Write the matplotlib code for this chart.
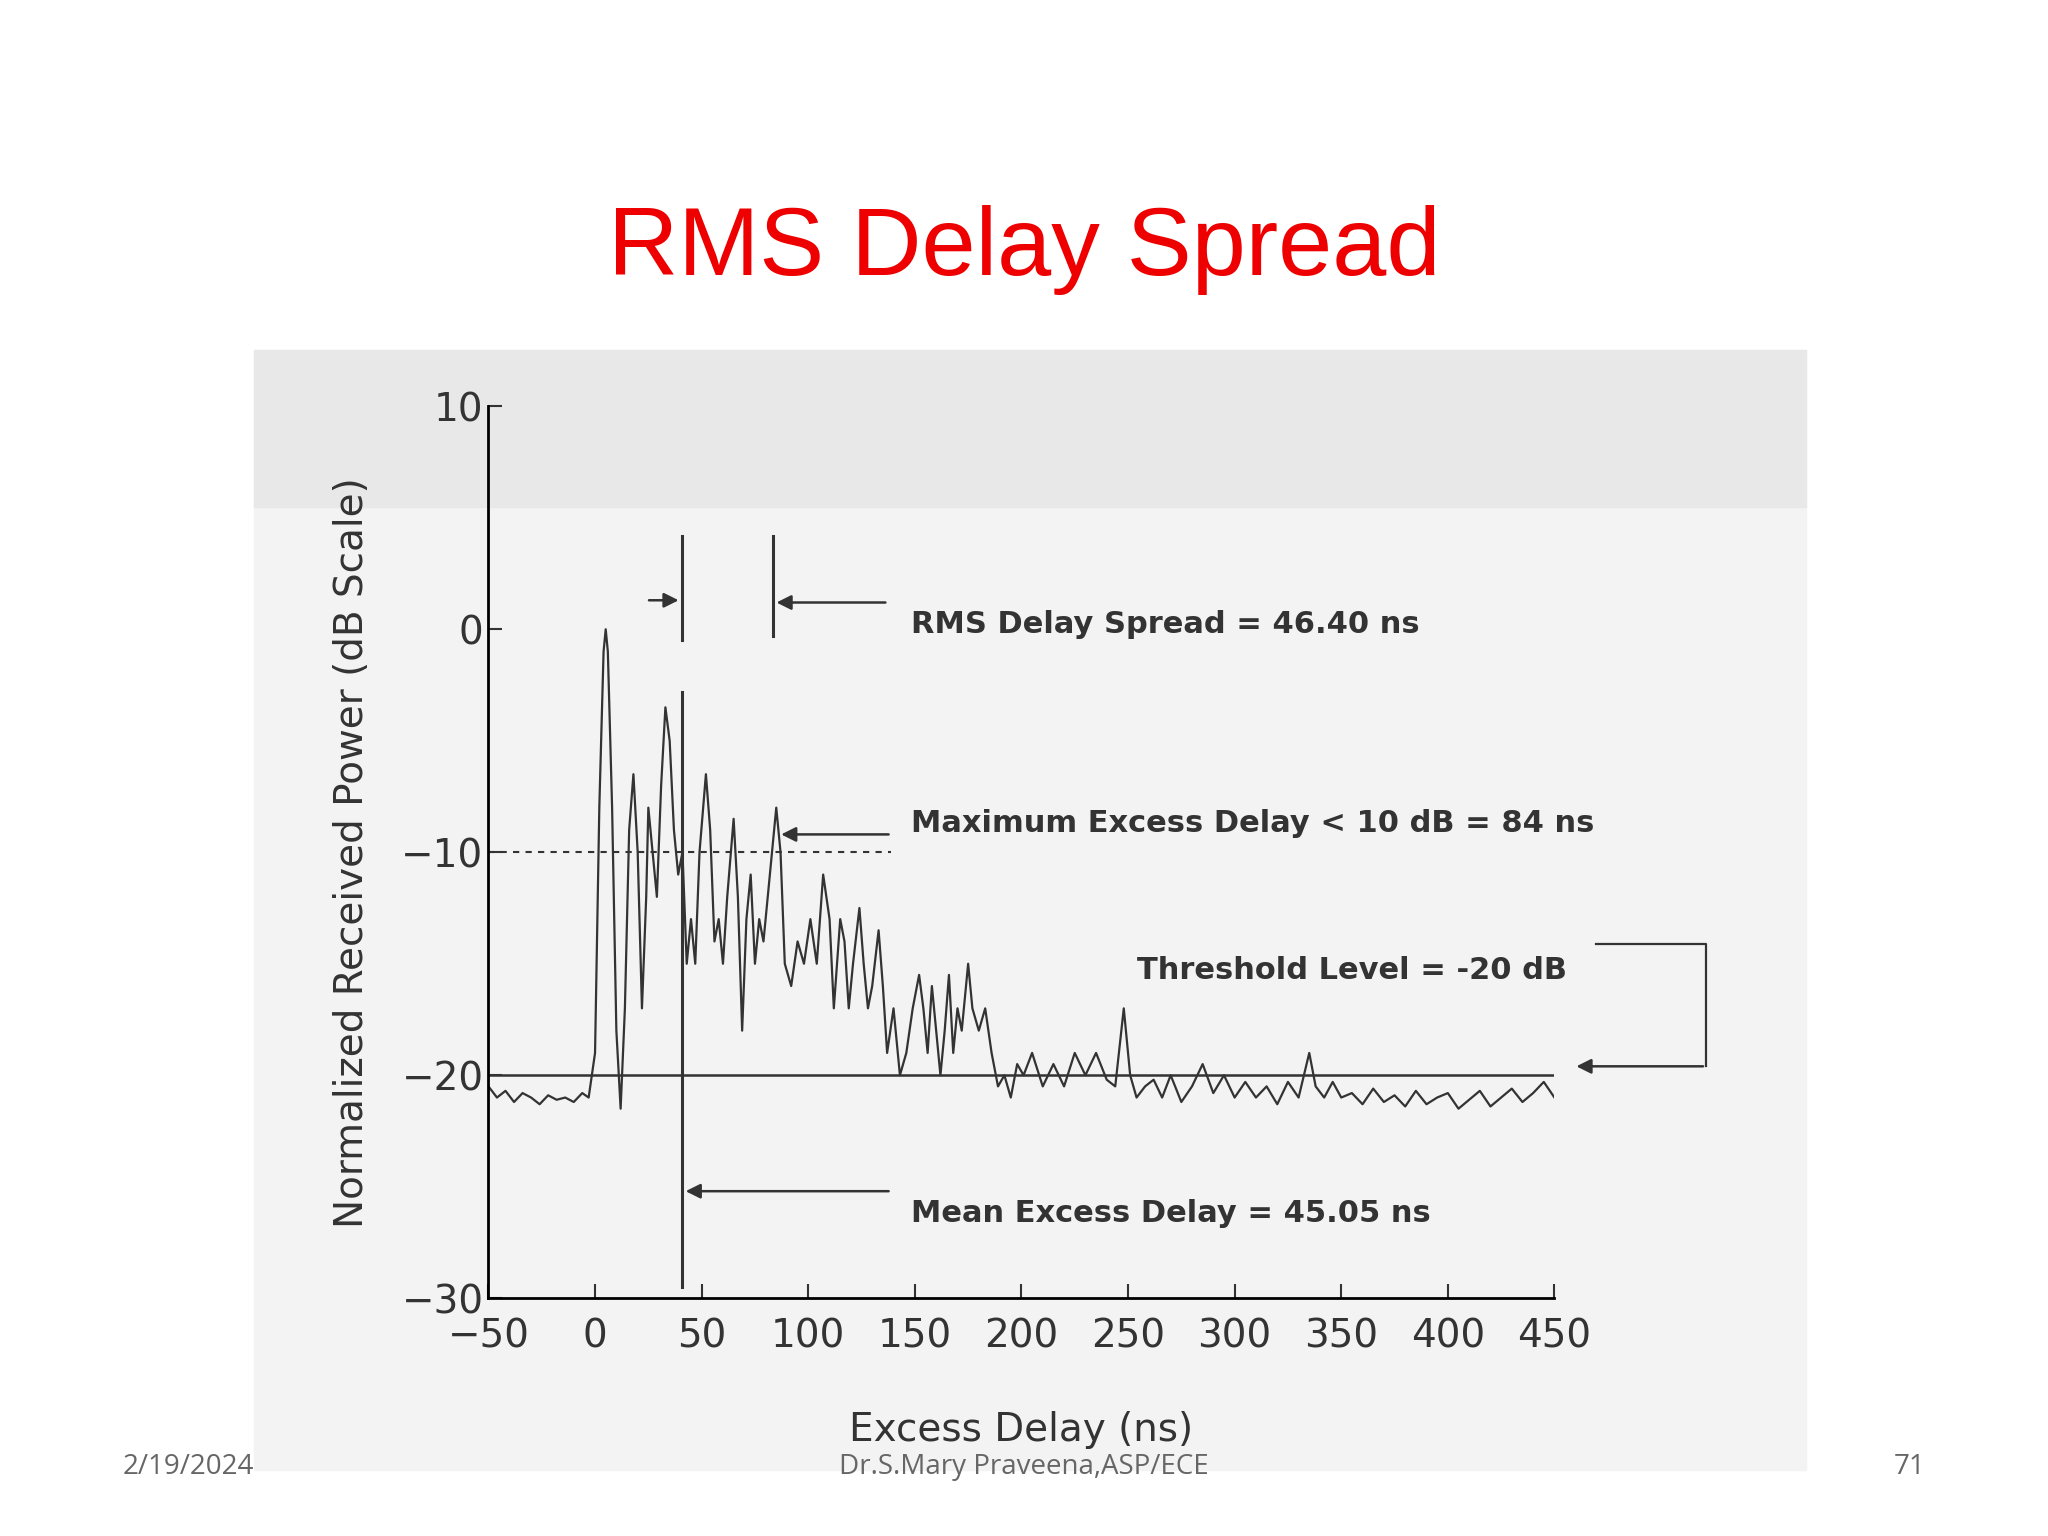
import matplotlib
matplotlib.use("Agg")
import matplotlib.pyplot as plt
from matplotlib.patches import Rectangle

delay = [-50,-46,-42,-38,-34,-30,-26,-22,-18,-14,-10,-6,-3,0,2,4,5,6,8,10,12,14,16,18,20,22,24,25,27,29,31,33,35,37,39,41,43,45,47,49,52,54,56,58,60,62,65,67,69,71,73,75,77,79,82,85,87,89,92,95,98,101,104,107,110,112,115,117,119,121,124,126,128,130,133,135,137,140,143,146,149,152,154,156,158,160,162,164,166,168,170,172,175,177,180,183,186,189,192,195,198,201,205,210,215,220,225,230,235,240,244,248,251,254,258,262,266,270,275,280,285,290,295,300,305,310,315,320,325,330,335,338,342,346,350,355,360,365,370,375,380,385,390,395,400,405,410,415,420,425,430,435,440,445,450]
power = [-20.5,-21,-20.7,-21.2,-20.8,-21,-21.3,-20.9,-21.1,-21,-21.2,-20.8,-21,-19,-8,-1,0,-1,-8,-18,-21.5,-17,-9,-6.5,-10,-17,-12,-8,-10,-12,-7,-3.5,-5,-9,-11,-10,-15,-13,-15,-10,-6.5,-9,-14,-13,-15,-12,-8.5,-12,-18,-13,-11,-15,-13,-14,-11,-8,-10,-15,-16,-14,-15,-13,-15,-11,-13,-17,-13,-14,-17,-15,-12.5,-15,-17,-16,-13.5,-16,-19,-17,-20,-19,-17,-15.5,-17,-19,-16,-18,-20,-18,-15.5,-19,-17,-18,-15,-17,-18,-17,-19,-20.5,-20,-21,-19.5,-20,-19,-20.5,-19.5,-20.5,-19,-20,-19,-20.2,-20.5,-17,-20,-21,-20.5,-20.2,-21,-20,-21.2,-20.5,-19.5,-20.8,-20,-21,-20.3,-21,-20.5,-21.3,-20.3,-21,-19,-20.5,-21,-20.3,-21,-20.8,-21.3,-20.6,-21.2,-20.9,-21.4,-20.7,-21.3,-21,-20.8,-21.5,-21.1,-20.7,-21.4,-21,-20.6,-21.2,-20.8,-20.3,-21]

xticks = [-50,0,50,100,150,200,250,300,350,400,450]
yticks = [-30,-20,-10,0,10]

fig = plt.figure(figsize=(20.48,15.36), dpi=100)
fig.patches.append(Rectangle((0.124,0.043),0.758,0.729, transform=fig.transFigure, color="#f3f3f3", zorder=-5))
fig.patches.append(Rectangle((0.124,0.67),0.758,0.102, transform=fig.transFigure, color="#e8e8e8", zorder=-4))
fig.text(0.5,0.837,"RMS Delay Spread",color="#ee0000",fontsize=70,ha="center",va="center",family="Liberation Sans")

ax = fig.add_axes([0.2385,0.1548,0.5205,0.5807])
ax.patch.set_alpha(0)
ax.plot(delay,power,color="#333333",lw=1.6)
ax.set_xlim(-50,450); ax.set_ylim(-30,10)
ax.set_xticks(xticks); ax.set_yticks(yticks)
ax.set_yticklabels(["\u221230","\u221220","\u221210","0","10"])
ax.set_xticklabels(["\u221250"]+[str(t) for t in xticks[1:]])
ax.tick_params(direction="in",length=10,width=1.5,labelsize=28,colors="#333333")
ax.tick_params(axis="x",pad=14)
for s in ["top","right"]: ax.spines[s].set_visible(False)
for s in ["left","bottom"]: ax.spines[s].set_linewidth(2)
ax.set_xlabel("Excess Delay (ns)",fontsize=28,labelpad=40,color="#333333")
ax.set_ylabel("Normalized Received Power (dB Scale)",fontsize=28,labelpad=22,color="#333333")

ax.axhline(-20,color="#333333",lw=1.8)
ax.plot([-50,139],[-10,-10],ls=(0,(3,3)),color="#333333",lw=1.5)
ax.plot([40.7,40.7],[-0.5,4.2],color="#333333",lw=2.2)
ax.plot([83.6,83.6],[-0.3,4.2],color="#333333",lw=2.2)
ax.plot([41,41],[-29.5,-2.8],color="#333333",lw=2.2)
ap = dict(arrowstyle="-|>",color="#333333",lw=1.8,mutation_scale=22)
ax.annotate("",xy=(40.5,1.3),xytext=(24,1.3),arrowprops=ap)
ax.annotate("",xy=(83.8,1.2),xytext=(137.5,1.2),arrowprops=ap)
ax.annotate("",xy=(86,-9.2),xytext=(139,-9.2),arrowprops=ap)
ax.annotate("",xy=(41.2,-25.2),xytext=(139,-25.2),arrowprops=ap)
ax.plot([469.6,521,521],[-14.1,-14.1,-19.6],color="#333333",lw=1.6,clip_on=False)
ax.annotate("",xy=(459,-19.6),xytext=(521,-19.6),arrowprops=ap,annotation_clip=False)

tk = dict(fontsize=22,fontweight="bold",color="#333333",va="center")
ax.text(148,0.2,"RMS Delay Spread = 46.40 ns",**tk)
ax.text(148,-8.7,"Maximum Excess Delay < 10 dB = 84 ns",**tk)
ax.text(254,-15.3,"Threshold Level = -20 dB",**tk)
ax.text(148,-26.2,"Mean Excess Delay = 45.05 ns",**tk)

ff = dict(fontsize=20,color="#666666",va="center",family="Open Sans")
fig.text(0.06,0.045,"2/19/2024",**ff)
fig.text(0.5,0.045,"Dr.S.Mary Praveena,ASP/ECE",ha="center",**ff)
fig.text(0.94,0.045,"71",ha="right",**ff)
fig.savefig("out.png",dpi=100)
